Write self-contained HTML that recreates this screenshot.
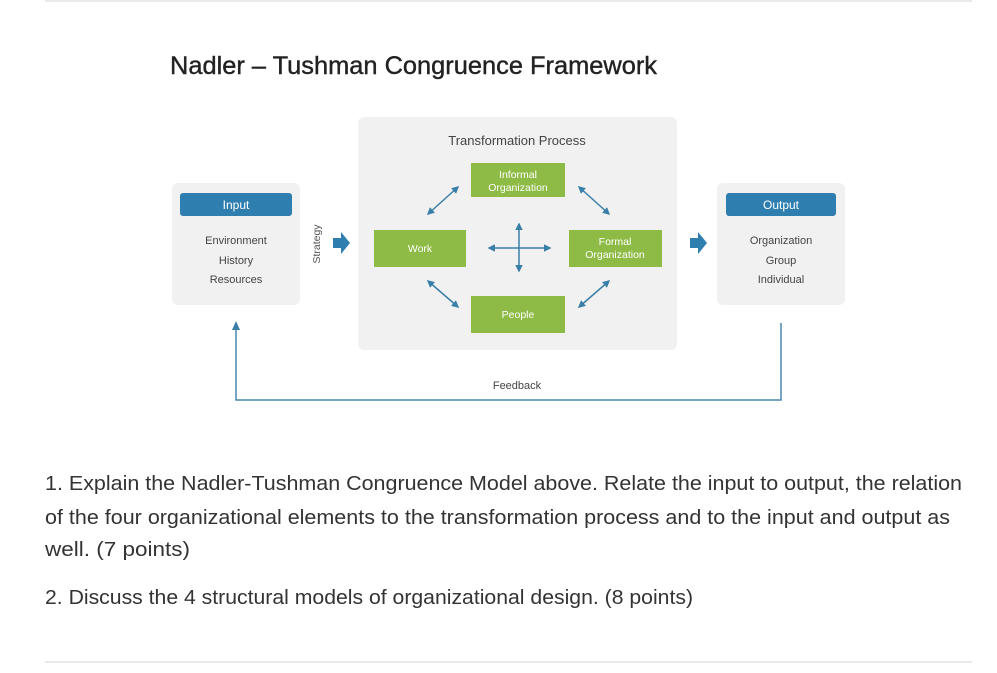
<!DOCTYPE html>
<html><head><meta charset="utf-8"><style>
html,body{margin:0;padding:0;background:#fff;}
svg{display:block;}
</style></head><body>
<svg width="997" height="673" viewBox="0 0 997 673" xmlns="http://www.w3.org/2000/svg" font-family="Liberation Sans, sans-serif">
<defs>
<marker id="a" viewBox="0 0 10 10" refX="8" refY="5" markerWidth="5" markerHeight="5" orient="auto-start-reverse"><path d="M0,0 L10,5 L0,10 z" fill="#3a7fa8"/></marker>
</defs>
<line x1="45" y1="1" x2="972" y2="1" stroke="#e2e2e2" stroke-width="1.5"/>
<line x1="45" y1="662" x2="972" y2="662" stroke="#e2e2e2" stroke-width="1.5"/>
<text x="170" y="74" font-size="25" fill="#222" stroke="#222" stroke-width="0.4" textLength="487" lengthAdjust="spacingAndGlyphs">Nadler – Tushman Congruence Framework</text>

<rect x="358" y="117" width="319" height="233" rx="6" fill="#f1f1f1"/>
<text x="517" y="145" font-size="13" fill="#444" text-anchor="middle">Transformation Process</text>
<g fill="#8dbb45">
<rect x="471" y="163" width="94" height="34"/>
<rect x="374" y="230" width="92" height="37"/>
<rect x="569" y="230" width="93" height="37"/>
<rect x="471" y="296" width="94" height="37"/>
</g>
<g fill="#fff" font-size="10.5" text-anchor="middle">
<text x="518" y="178">Informal</text><text x="518" y="191">Organization</text>
<text x="420" y="252">Work</text>
<text x="615" y="245">Formal</text><text x="615" y="258">Organization</text>
<text x="518" y="318">People</text>
</g>
<g stroke="#3a7fa8" stroke-width="1.5" fill="none" marker-start="url(#a)" marker-end="url(#a)">
<line x1="428" y1="214" x2="458" y2="187"/>
<line x1="579" y1="187" x2="609" y2="214"/>
<line x1="428" y1="281" x2="458" y2="307"/>
<line x1="579" y1="307" x2="609" y2="281"/>
<line x1="489" y1="248" x2="550" y2="248"/>
<line x1="519" y1="224" x2="519" y2="271"/>
</g>

<rect x="172" y="183" width="128" height="122" rx="6" fill="#f1f1f1"/>
<rect x="180" y="193" width="112" height="23" rx="3" fill="#2e7fb0"/>
<text x="236" y="209" font-size="12" fill="#fff" text-anchor="middle">Input</text>
<g font-size="11" fill="#444" text-anchor="middle">
<text x="236" y="244">Environment</text><text x="236" y="264">History</text><text x="236" y="283">Resources</text>
</g>
<rect x="717" y="183" width="128" height="122" rx="6" fill="#f1f1f1"/>
<rect x="726" y="193" width="110" height="23" rx="3" fill="#2e7fb0"/>
<text x="781" y="209" font-size="12" fill="#fff" text-anchor="middle">Output</text>
<g font-size="11" fill="#444" text-anchor="middle">
<text x="781" y="244">Organization</text><text x="781" y="264">Group</text><text x="781" y="283">Individual</text>
</g>
<text x="0" y="0" font-size="10.5" fill="#555" text-anchor="middle" transform="translate(320,244) rotate(-90)">Strategy</text>
<path d="M333,238 h8 v-6 l9,11 l-9,11 v-6 h-8z" fill="#2e7fb0"/>
<path d="M690,238 h8 v-6 l9,11 l-9,11 v-6 h-8z" fill="#2e7fb0"/>

<path d="M781,323 V400 H236 V326" stroke="#4a88b0" stroke-width="1.5" fill="none"/>
<path d="M232,330 L236,321 L240,330z" fill="#3a7fa8"/>
<text x="517" y="389" font-size="11" fill="#444" text-anchor="middle">Feedback</text>

<g font-size="20.5" fill="#333">
<text x="45" y="490" textLength="917" lengthAdjust="spacingAndGlyphs">1. Explain the Nadler-Tushman Congruence Model above. Relate the input to output, the relation</text>
<text x="45" y="524" textLength="905" lengthAdjust="spacingAndGlyphs">of the four organizational elements to the transformation process and to the input and output as</text>
<text x="45" y="556" textLength="145" lengthAdjust="spacingAndGlyphs">well.  (7 points)</text>
<text x="45" y="604" textLength="648" lengthAdjust="spacingAndGlyphs">2. Discuss the 4 structural models of organizational design. (8 points)</text>
</g>
</svg>
</body></html>
